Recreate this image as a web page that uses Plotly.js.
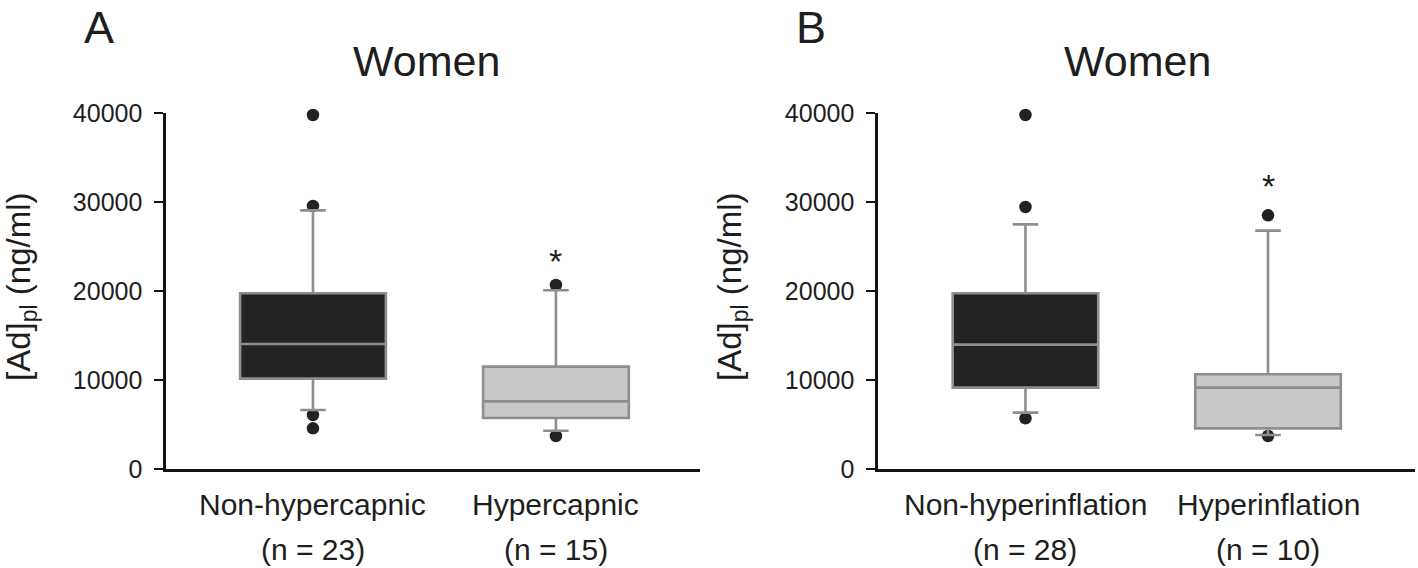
<!DOCTYPE html>
<html>
<head>
<meta charset="utf-8">
<script src="https://cdn.plot.ly/plotly-3.0.1.min.js"></script>
<style>
  html, body { margin: 0; padding: 0; background: #ffffff; }
  #chart { width: 1418px; height: 568px; }
</style>
</head>
<body>
<div id="chart"></div>
<script>
// ---------------- data ----------------
const panelLetters = ['A', 'B'];
const panelTitles = ['Women', 'Women'];
const yAxisLabel = '[Ad]<sub>pl</sub> (ng/ml)';
const yTickValues = [0, 10000, 20000, 30000, 40000];

// Panel A
const categoriesA = ['Non-hypercapnic', 'Hypercapnic'];
const countsA = [23, 15];
const lowerWhiskerA = [6630, 4300];
const q1A = [10150, 5730];
const medianA = [14050, 7600];
const q3A = [19740, 11500];
const upperWhiskerA = [29060, 20080];
const outliersA_non = [39775, 29550, 6070, 4570];
const outliersA_hyp = [20670, 3710];

// Panel B
const categoriesB = ['Non-hyperinflation', 'Hyperinflation'];
const countsB = [28, 10];
const lowerWhiskerB = [6330, 3820];
const q1B = [9140, 4570];
const medianB = [13970, 9140];
const q3B = [19740, 10640];
const upperWhiskerB = [27490, 26780];
const outliersB_non = [39775, 29440, 5690];
const outliersB_hyp = [28500, 3710];

// significance marks (* above second group)
const sigMarkY = [23400, 31750];

// ---------------- styles ----------------
const FONT = 'Liberation Sans, Arial, Helvetica, sans-serif';
const TXT = '#1e1e1e';
const boxFills = ['#232323', '#c8c8c8'];
const boxLine = '#8e8e8e';
const dotColor = '#222222';
const W = 1418, H = 568, T = 113, B = 99;
const plotH = H - T - B;
const py = (pix) => (H - B - pix) / plotH;   // pixel row -> paper y

function boxTrace(cat, i, lw, q1, med, q3, uw, xa, ya) {
  return {
    type: 'box', x: [cat[i]],
    q1: [q1[i]], median: [med[i]], q3: [q3[i]],
    lowerfence: [lw[i]], upperfence: [uw[i]],
    width: 0.6, whiskerwidth: 0.175,
    fillcolor: boxFills[i],
    line: { color: boxLine, width: 2.6 },
    boxpoints: false, hoverinfo: 'skip', showlegend: false,
    xaxis: xa, yaxis: ya
  };
}
function dotTrace(cat, vals, xa, ya) {
  return {
    type: 'scatter', mode: 'markers',
    x: vals.map(() => cat), y: vals,
    marker: { color: dotColor, size: 12.5, line: { width: 0 } },
    cliponaxis: false, hoverinfo: 'skip', showlegend: false,
    xaxis: xa, yaxis: ya
  };
}

const data = [
  dotTrace(categoriesA[0], outliersA_non, 'x', 'y'),
  dotTrace(categoriesA[1], outliersA_hyp, 'x', 'y'),
  dotTrace(categoriesB[0], outliersB_non, 'x2', 'y2'),
  dotTrace(categoriesB[1], outliersB_hyp, 'x2', 'y2'),
  boxTrace(categoriesA, 0, lowerWhiskerA, q1A, medianA, q3A, upperWhiskerA, 'x3', 'y3'),
  boxTrace(categoriesA, 1, lowerWhiskerA, q1A, medianA, q3A, upperWhiskerA, 'x3', 'y3'),
  boxTrace(categoriesB, 0, lowerWhiskerB, q1B, medianB, q3B, upperWhiskerB, 'x4', 'y4'),
  boxTrace(categoriesB, 1, lowerWhiskerB, q1B, medianB, q3B, upperWhiskerB, 'x4', 'y4')
];

const rangeA = [-0.605, 1.593];
const rangeB = [-0.608, 1.606];
const domA = [166 / W, 700 / W];
const domB = [878 / W, 1415 / W];

function xAxis(dom, range, cats, extra) {
  return Object.assign({
    domain: dom, range: range, type: 'category',
    categoryorder: 'array', categoryarray: cats,
    showline: true, linecolor: '#141414', linewidth: 2.6,
    ticks: '', showticklabels: false, showgrid: false, zeroline: false,
    fixedrange: true
  }, extra || {});
}
function yAxis(anchor, extra) {
  return Object.assign({
    domain: [0, 1], range: [0, 40000], anchor: anchor,
    tickvals: yTickValues, tickformat: 'd',
    ticks: 'outside', ticklen: 9, tickwidth: 2, tickcolor: '#141414',
    ticklabelstandoff: 7,
    showline: true, linecolor: '#141414', linewidth: 2.6,
    showgrid: false, zeroline: false,
    tickfont: { family: FONT, size: 25, color: TXT },
    fixedrange: true
  }, extra || {});
}

const annotations = [];
function panelText(letter, lx, title, tx, yLabelX) {
  annotations.push({ text: letter, xref: 'paper', yref: 'paper', x: lx / W, y: py(0),
    xanchor: 'center', yanchor: 'top', showarrow: false,
    font: { family: FONT, size: 45, color: TXT } });
  annotations.push({ text: title, xref: 'paper', yref: 'paper', x: tx / W, y: py(61),
    xanchor: 'center', yanchor: 'middle', showarrow: false,
    font: { family: FONT, size: 43, color: TXT } });
  annotations.push({ text: yAxisLabel, xref: 'paper', yref: 'paper', x: yLabelX / W, y: py(287),
    xanchor: 'center', yanchor: 'middle', textangle: -90, showarrow: false,
    font: { family: FONT, size: 33, color: TXT } });
}
panelText(panelLetters[0], 99, panelTitles[0], 427, 21);
panelText(panelLetters[1], 811, panelTitles[1], 1137, 732);

function catLabels(cats, counts, xref) {
  cats.forEach((c, i) => {
    annotations.push({ text: c, xref: xref, yref: 'paper', x: c, y: py(504),
      xanchor: 'center', yanchor: 'middle', showarrow: false,
      font: { family: FONT, size: 30, color: TXT } });
    annotations.push({ text: '(n = ' + counts[i] + ')', xref: xref, yref: 'paper', x: c, y: py(549),
      xanchor: 'center', yanchor: 'middle', showarrow: false,
      font: { family: FONT, size: 30, color: TXT } });
  });
}
catLabels(categoriesA, countsA, 'x');
catLabels(categoriesB, countsB, 'x2');

annotations.push({ text: '*', xref: 'x', yref: 'y', x: categoriesA[1], y: sigMarkY[0],
  xanchor: 'center', yanchor: 'middle', showarrow: false,
  font: { family: FONT, size: 34, color: TXT } });
annotations.push({ text: '*', xref: 'x2', yref: 'y2', x: categoriesB[1], y: sigMarkY[1],
  xanchor: 'center', yanchor: 'middle', showarrow: false,
  font: { family: FONT, size: 34, color: TXT } });

const layout = {
  width: W, height: H,
  margin: { l: 0, r: 0, t: T, b: B, pad: 0 },
  paper_bgcolor: '#ffffff', plot_bgcolor: 'rgba(0,0,0,0)',
  showlegend: false,
  font: { family: FONT, color: TXT },
  xaxis: xAxis(domA, rangeA, categoriesA, { anchor: 'y' }),
  yaxis: yAxis('x'),
  xaxis2: xAxis(domB, rangeB, categoriesB, { anchor: 'y2' }),
  yaxis2: yAxis('x2'),
  xaxis3: { overlaying: 'x', anchor: 'y3', range: rangeA, type: 'category',
    categoryorder: 'array', categoryarray: categoriesA, visible: false, fixedrange: true },
  yaxis3: { overlaying: 'y', anchor: 'x3', range: [0, 40000], visible: false, fixedrange: true },
  xaxis4: { overlaying: 'x2', anchor: 'y4', range: rangeB, type: 'category',
    categoryorder: 'array', categoryarray: categoriesB, visible: false, fixedrange: true },
  yaxis4: { overlaying: 'y2', anchor: 'x4', range: [0, 40000], visible: false, fixedrange: true },
  annotations: annotations
};

Plotly.newPlot('chart', data, layout, { displayModeBar: false, staticPlot: true });
</script>
</body>
</html>
